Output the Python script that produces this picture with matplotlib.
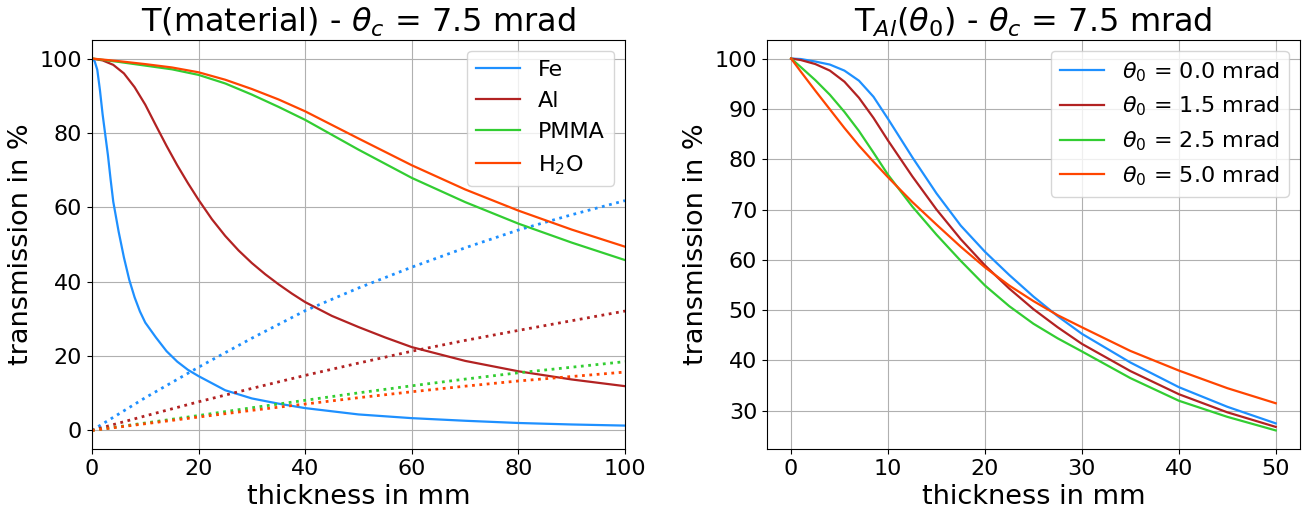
"""
Transmission through absorbers vs thickness
"""

import matplotlib.pyplot as plt

# ----------------------------------------------------------------------
# Data
# ----------------------------------------------------------------------

materials = ["Fe", "Al", "PMMA", "H$_2$O"]
colors = ["dodgerblue", "firebrick", "limegreen", "orangered"]

fe_x = [0, 0.5, 1, 1.5, 2, 2.5, 3, 3.5, 4, 4.5, 5, 6, 7, 8, 9, 10, 12, 14,
        16, 18, 20, 25, 30, 35, 40, 50, 60, 70, 80, 90, 100]
fe_t = [100, 99.3, 97, 91.5, 85, 79.5, 74, 67.5, 61.5, 57.5, 53.5, 46.5,
        40.5, 35.8, 32.0, 29.0, 25.0, 21.3, 18.5, 16.3, 14.6, 10.8, 8.6,
        7.2, 6.0, 4.3, 3.3, 2.6, 2.0, 1.6, 1.3]

al_x = [0, 2, 4, 6, 8, 10, 12, 14, 16, 18, 20, 22.5, 25, 27.5, 30, 32.5,
        35, 37.5, 40, 45, 50, 55, 60, 70, 80, 90, 100]
al_t = [100, 99.5, 98.3, 96.0, 92.3, 87.6, 82.0, 76.5, 71.3, 66.5, 62.0,
        56.8, 52.3, 48.4, 45.0, 42.0, 39.3, 36.8, 34.5, 30.8, 27.8, 25.0,
        22.4, 18.7, 15.9, 13.7, 11.9]

slow_x = [0, 5, 10, 15, 20, 25, 30, 35, 40, 50, 60, 70, 80, 90, 100]
pmma_t = [100, 99.1, 98.1, 97.1, 95.6, 93.3, 90.3, 87.0, 83.5, 75.5, 67.9,
          61.4, 55.6, 50.5, 45.8]
h2o_t = [100, 99.3, 98.5, 97.6, 96.3, 94.3, 91.8, 89.0, 85.8, 78.5, 71.3,
         64.8, 59.1, 54.0, 49.4]

# dotted curves (same x grid for all four)
dot_x = [0, 10, 20, 30, 40, 50, 60, 70, 80, 90, 100]
fe_dot = [0, 8.8, 17.0, 24.8, 32.2, 38.3, 43.9, 49.1, 53.9, 58.0, 61.8]
al_dot = [0, 3.9, 7.7, 11.3, 14.8, 18.1, 21.3, 24.2, 26.9, 29.5, 32.1]
pmma_dot = [0, 2.0, 4.0, 6.1, 8.1, 10.1, 12.0, 13.8, 15.5, 17.0, 18.5]
h2o_dot = [0, 1.8, 3.6, 5.4, 7.1, 8.8, 10.4, 11.9, 13.3, 14.5, 15.7]

# T_Al for different beam divergences
theta0 = [0.0, 1.5, 2.5, 5.0]
al2_x = [0, 1, 2.5, 4, 5.5, 7, 8.5, 10, 12.5, 15, 17.5, 20, 22.5, 25, 27.5,
         30, 35, 40, 45, 50]
t_theta_0 = [100, 99.9, 99.4, 98.8, 97.6, 95.6, 92.4, 88.0, 80.4, 73.2,
             66.8, 61.6, 57.0, 52.7, 48.8, 45.3, 39.6, 34.7, 30.8, 27.5]
t_theta_15 = [100, 99.7, 98.9, 97.6, 95.4, 92.2, 88.2, 83.7, 76.6, 70.0,
              64.1, 58.9, 54.3, 50.2, 46.6, 43.3, 37.9, 33.3, 29.7, 26.8]
t_theta_25 = [100, 98.3, 95.7, 92.8, 89.4, 85.6, 81.3, 76.9, 70.6, 65.0,
              59.8, 54.9, 50.8, 47.3, 44.4, 41.8, 36.5, 32.0, 28.8, 26.1]
t_theta_50 = [100, 97.4, 93.6, 89.9, 86.2, 82.7, 79.5, 76.4, 71.5, 67.0,
              62.6, 58.5, 54.9, 51.8, 49.0, 46.6, 41.9, 38.0, 34.5, 31.5]

# ----------------------------------------------------------------------
# Figure
# ----------------------------------------------------------------------

plt.rcParams["font.size"] = 16

fig, axes = plt.subplots(1, 2, figsize=(13.06, 5.12), dpi=100)
fig.subplots_adjust(left=0.0704, right=0.9954, top=0.922, bottom=0.123,
                    wspace=0.266)

ax = axes[0]
solid = [(fe_x, fe_t), (al_x, al_t), (slow_x, pmma_t), (slow_x, h2o_t)]
dotted = [fe_dot, al_dot, pmma_dot, h2o_dot]
for (x, t), d, name, c in zip(solid, dotted, materials, colors):
    ax.plot(x, t, color=c, lw=1.6, label=name)
    ax.plot(dot_x, d, color=c, lw=2, ls=":")
ax.set_xlim(0, 100)
ax.set_title(r"T(material) - $\theta_c$ = 7.5 mrad", fontsize=23)
ax.set_xlabel("thickness in mm", fontsize=19.5)
ax.set_ylabel("transmission in %", fontsize=19.5)
ax.legend(loc="upper right", fontsize=16)
ax.grid(True)

ax = axes[1]
for th, t, c in zip(theta0, [t_theta_0, t_theta_15, t_theta_25, t_theta_50],
                    colors):
    ax.plot(al2_x, t, color=c, lw=1.6, label=rf"$\theta_0$ = {th:.1f} mrad")
ax.set_title(r"T$_{Al}(\theta_0)$ - $\theta_c$ = 7.5 mrad", fontsize=23)
ax.set_xlabel("thickness in mm", fontsize=19.5)
ax.set_ylabel("transmission in %", fontsize=19.5)
ax.legend(loc="upper right", fontsize=16)
ax.grid(True)

fig.savefig("out.png", dpi=100)
plt.close(fig)
